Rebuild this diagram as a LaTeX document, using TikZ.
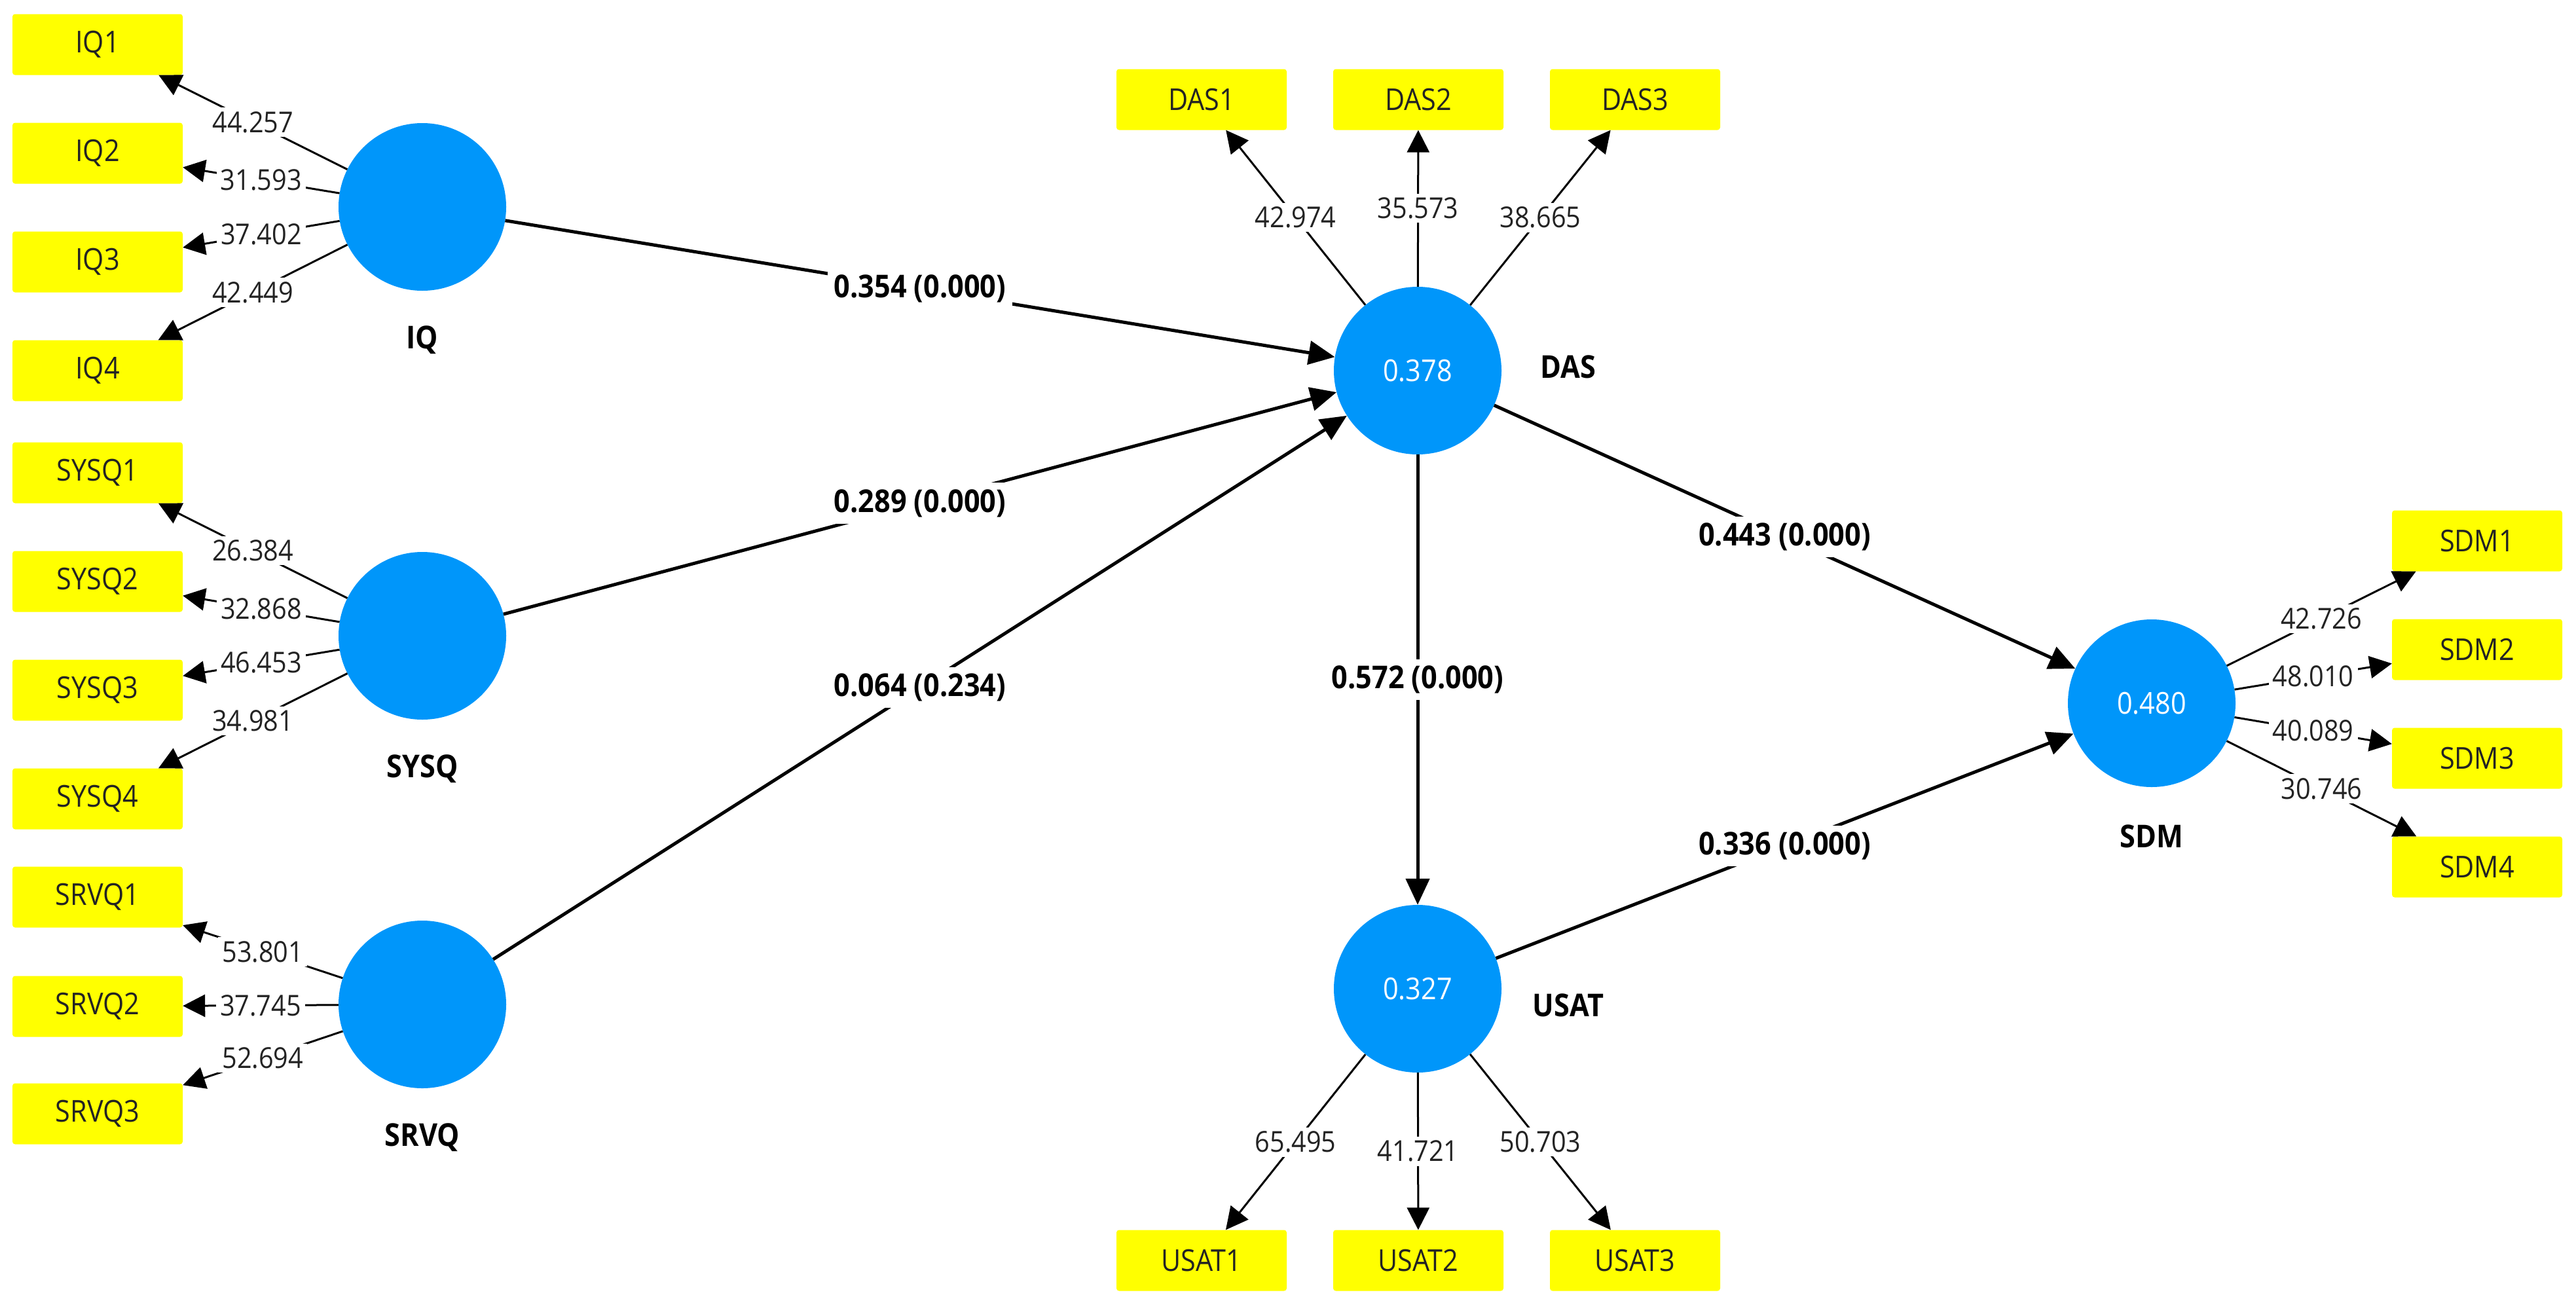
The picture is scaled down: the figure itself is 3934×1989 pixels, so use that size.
\documentclass[tikz,border=0pt]{standalone}
\usepackage{fontspec}
\setmainfont{Open Sans}[FakeStretch=0.9]
\usetikzlibrary{arrows.meta}
\definecolor{lvblue}{RGB}{0,150,250}
\definecolor{mvyellow}{RGB}{255,255,0}
\definecolor{txtgray}{RGB}{35,35,35}
\begin{document}
\begin{tikzpicture}[x=1pt,y=-1pt,
  lv/.style={circle, fill=lvblue, minimum size=256pt, inner sep=0pt, text=white, font=\fontsize{46}{50}\selectfont},
  mv/.style={rectangle, rounded corners=4pt, fill=mvyellow, minimum width=260pt, minimum height=93pt, inner sep=0pt, text=txtgray, font=\fontsize{46}{50}\selectfont},
  lvname/.style={inner sep=0pt, text=black, font=\bfseries\fontsize{48}{52}\selectfont},
  pathlink/.style={line width=5pt, -{Triangle[length=40pt,width=36pt]}},
  loadlink/.style={line width=3pt, -{Triangle[length=34pt,width=34pt]}},
  plabel/.style={fill=white, inner sep=10pt, text=black, font=\bfseries\fontsize{48}{52}\selectfont},
  llabel/.style={fill=white, inner sep=6pt, text=txtgray, font=\fontsize{44}{48}\selectfont}]
\useasboundingbox (0,0) rectangle (3934,1989);

% latent variables
\node[lv] (IQ)   at (645,316)  {};
\node[lv] (SYSQ) at (645,971)  {};
\node[lv] (SRVQ) at (645,1534) {};
\node[lv] (DAS)  at (2165,566) {0.378};
\node[lv] (USAT) at (2165,1510) {0.327};
\node[lv] (SDM)  at (3286,1074) {0.480};

% latent names
\node[lvname] (nIQ)   at (645,519)  {IQ};
\node[lvname] (nSYSQ) at (645,1174) {SYSQ};
\node[lvname] (nSRVQ) at (645,1737) {SRVQ};
\node[lvname] (nDAS)  at (2395,560) {DAS};
\node[lvname] (nUSAT) at (2395,1535) {USAT};
\node[lvname] (nSDM)  at (3286,1277) {SDM};

% indicators
\node[mv] (IQ1) at (149,68)  {IQ1};
\node[mv] (IQ2) at (149,234) {IQ2};
\node[mv] (IQ3) at (149,400) {IQ3};
\node[mv] (IQ4) at (149,566) {IQ4};
\node[mv] (SYSQ1) at (149,722)  {SYSQ1};
\node[mv] (SYSQ2) at (149,888)  {SYSQ2};
\node[mv] (SYSQ3) at (149,1054) {SYSQ3};
\node[mv] (SYSQ4) at (149,1220) {SYSQ4};
\node[mv] (SRVQ1) at (149,1370) {SRVQ1};
\node[mv] (SRVQ2) at (149,1537) {SRVQ2};
\node[mv] (SRVQ3) at (149,1701) {SRVQ3};
\node[mv] (DAS1) at (1835,152) {DAS1};
\node[mv] (DAS2) at (2166,152) {DAS2};
\node[mv] (DAS3) at (2497,152) {DAS3};
\node[mv] (USAT1) at (1835,1925) {USAT1};
\node[mv] (USAT2) at (2166,1925) {USAT2};
\node[mv] (USAT3) at (2497,1925) {USAT3};
\node[mv] (SDM1) at (3783,826)  {SDM1};
\node[mv] (SDM2) at (3783,992)  {SDM2};
\node[mv] (SDM3) at (3783,1158) {SDM3};
\node[mv] (SDM4) at (3783,1324) {SDM4};

% loadings
\draw[loadlink] (IQ) -- node[llabel]{44.257} (IQ1);
\draw[loadlink] (IQ) -- node[llabel]{31.593} (IQ2);
\draw[loadlink] (IQ) -- node[llabel]{37.402} (IQ3);
\draw[loadlink] (IQ) -- node[llabel]{42.449} (IQ4);
\draw[loadlink] (SYSQ) -- node[llabel]{26.384} (SYSQ1);
\draw[loadlink] (SYSQ) -- node[llabel]{32.868} (SYSQ2);
\draw[loadlink] (SYSQ) -- node[llabel]{46.453} (SYSQ3);
\draw[loadlink] (SYSQ) -- node[llabel]{34.981} (SYSQ4);
\draw[loadlink] (SRVQ) -- node[llabel]{53.801} (SRVQ1);
\draw[loadlink] (SRVQ) -- node[llabel]{37.745} (SRVQ2);
\draw[loadlink] (SRVQ) -- node[llabel]{52.694} (SRVQ3);
\draw[loadlink] (DAS) -- node[llabel]{42.974} (DAS1);
\draw[loadlink] (DAS) -- node[llabel]{35.573} (DAS2);
\draw[loadlink] (DAS) -- node[llabel]{38.665} (DAS3);
\draw[loadlink] (USAT) -- node[llabel]{65.495} (USAT1);
\draw[loadlink] (USAT) -- node[llabel]{41.721} (USAT2);
\draw[loadlink] (USAT) -- node[llabel]{50.703} (USAT3);
\draw[loadlink] (SDM) -- node[llabel]{42.726} (SDM1);
\draw[loadlink] (SDM) -- node[llabel]{48.010} (SDM2);
\draw[loadlink] (SDM) -- node[llabel]{40.089} (SDM3);
\draw[loadlink] (SDM) -- node[llabel]{30.746} (SDM4);

% structural paths
\draw[pathlink] (IQ) -- node[plabel]{0.354 (0.000)} (DAS);
\draw[pathlink] (SYSQ) -- node[plabel]{0.289 (0.000)} (DAS);
\draw[pathlink] (SRVQ) -- node[plabel]{0.064 (0.234)} (DAS);
\draw[pathlink] (DAS) -- node[plabel]{0.443 (0.000)} (SDM);
\draw[pathlink] (DAS) -- node[plabel]{0.572 (0.000)} (USAT);
\draw[pathlink] (USAT) -- node[plabel]{0.336 (0.000)} (SDM);
\end{tikzpicture}
\end{document}
